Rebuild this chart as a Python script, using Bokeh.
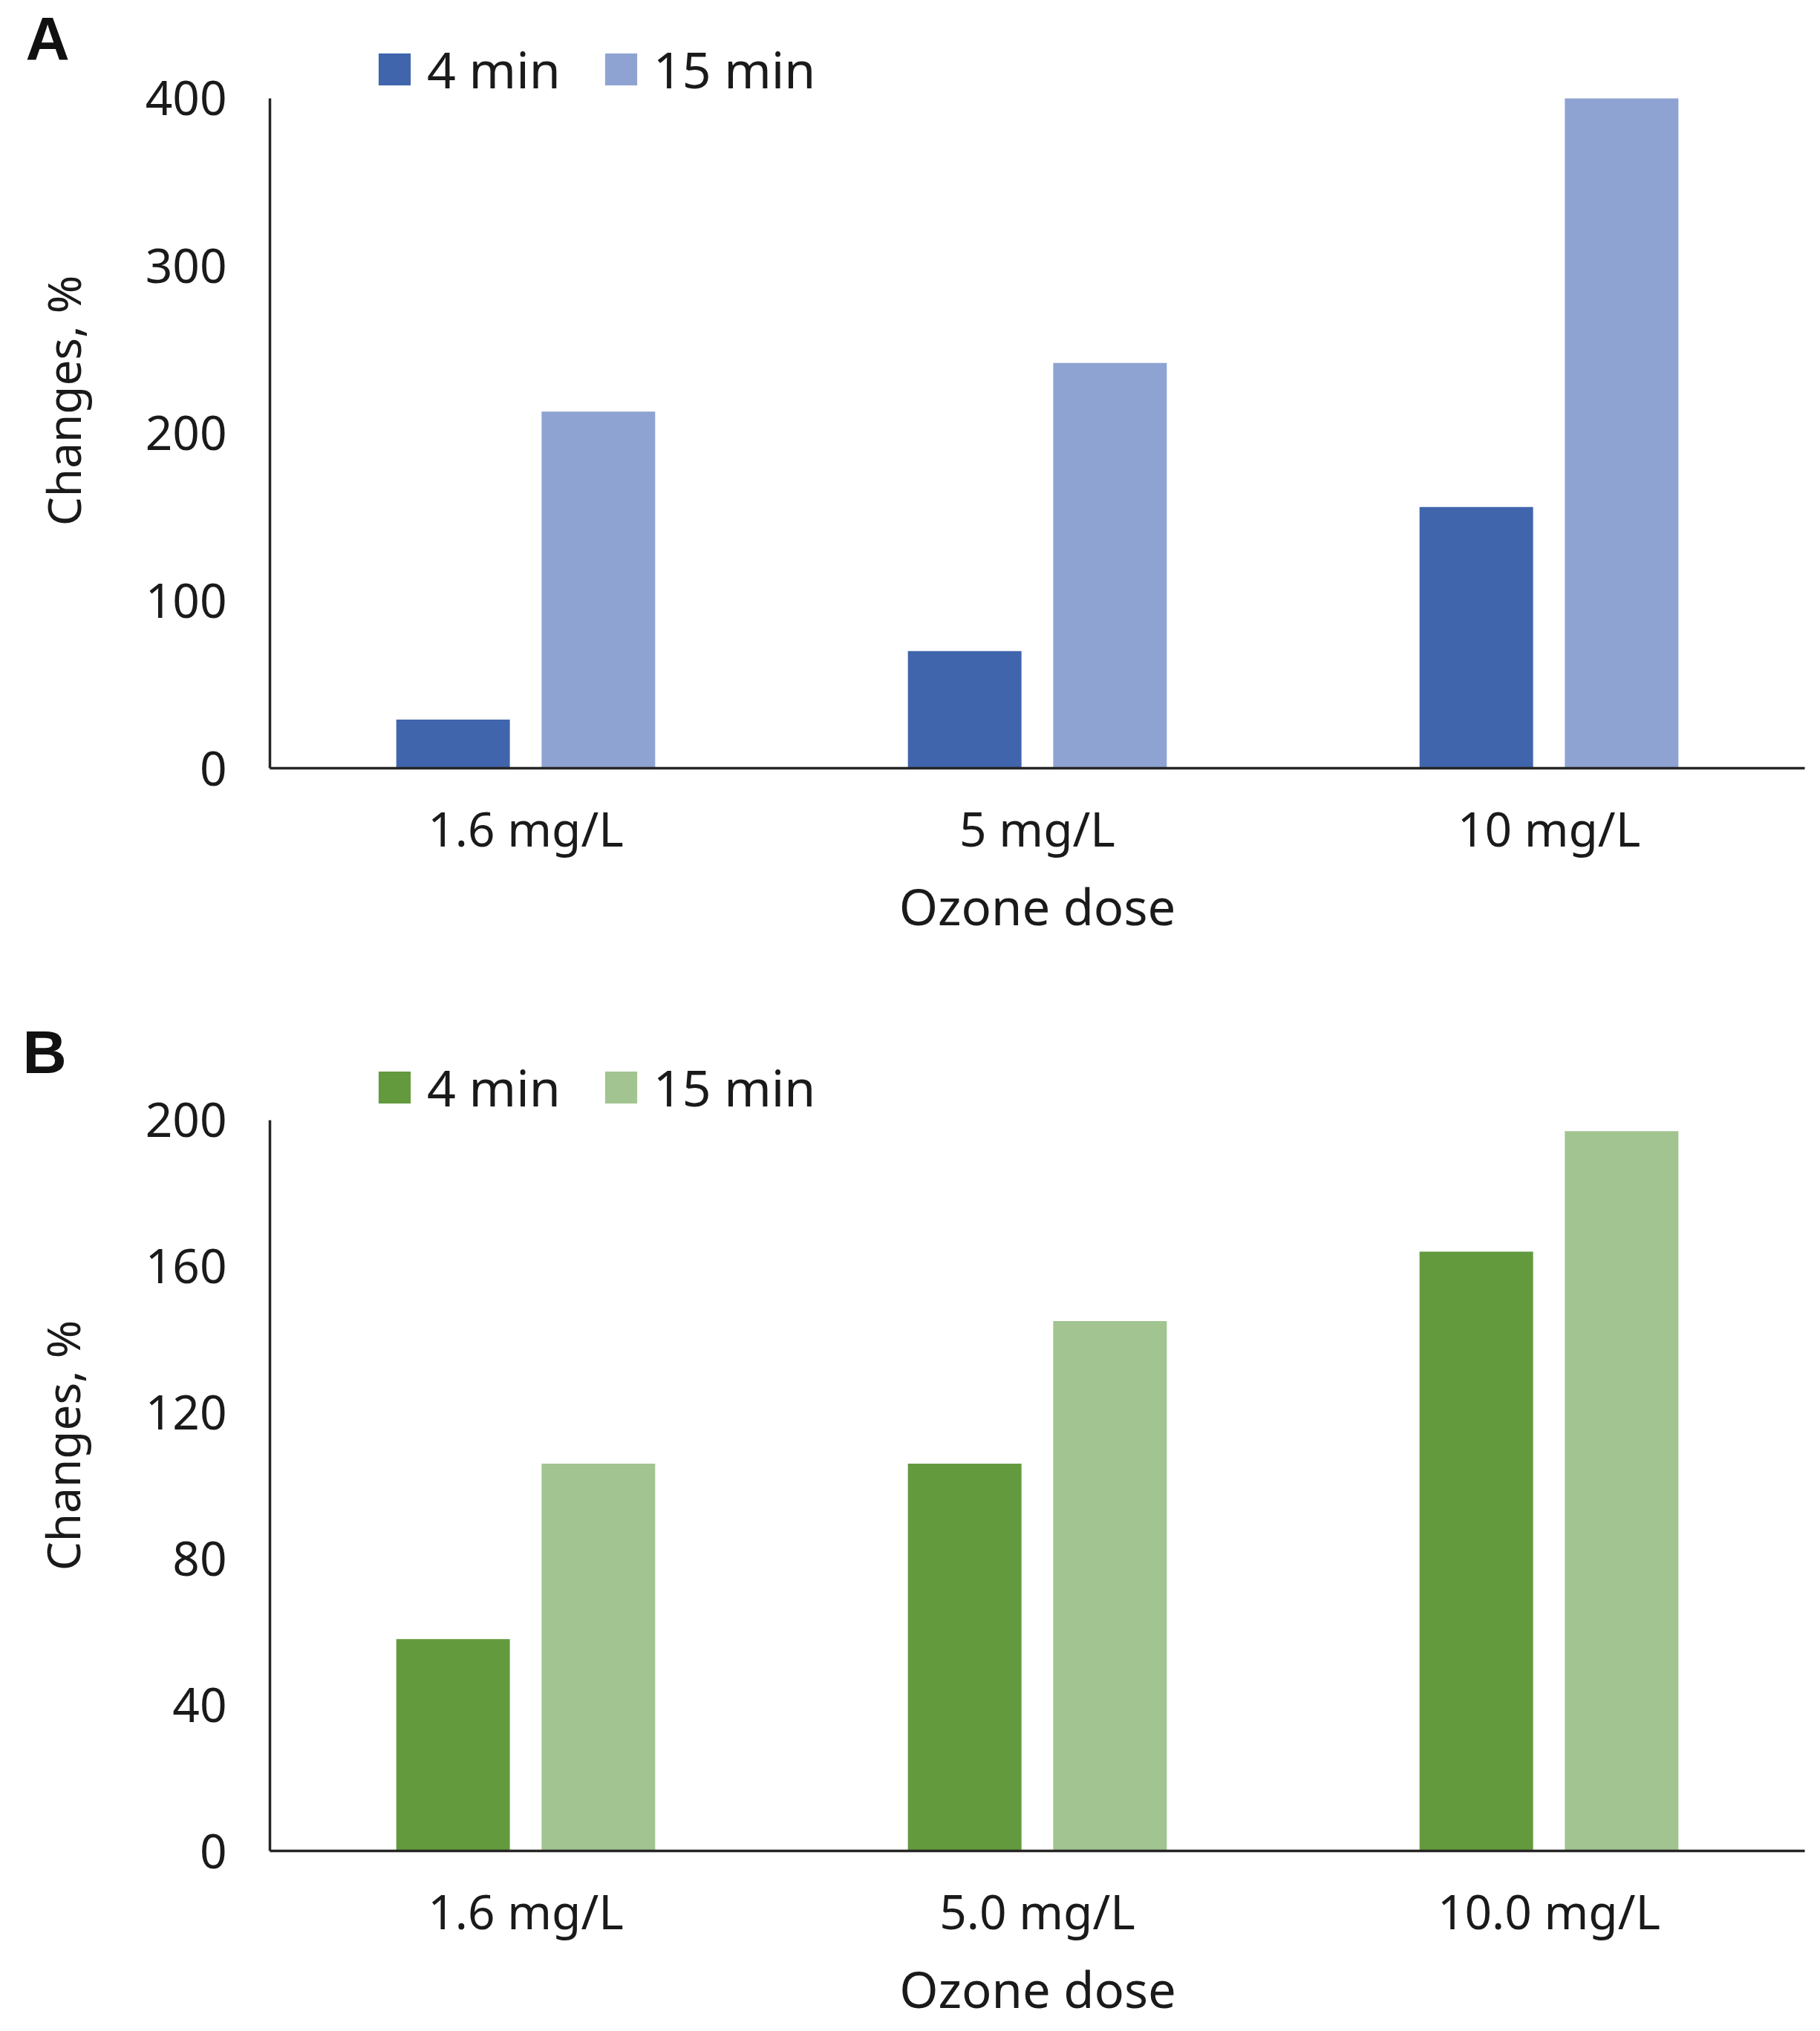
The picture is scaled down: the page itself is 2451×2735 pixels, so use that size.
from bokeh.plotting import figure
from bokeh.models import FactorRange, Range1d, FixedTicker, Legend, LegendItem, Label
from bokeh.transform import dodge
from bokeh.layouts import column
from bokeh.embed import file_html
from bokeh.resources import INLINE

# ---- data ----
doses_a = ["1.6 mg/L", "5 mg/L", "10 mg/L"]
a_4min = [29, 70, 156]
a_15min = [213, 242, 400]

doses_b = ["1.6 mg/L", "5.0 mg/L", "10.0 mg/L"]
b_4min = [58, 106, 164]
b_15min = [106, 145, 197]

ticks_a = [0, 100, 200, 300, 400]
ticks_b = [0, 40, 80, 120, 160, 200]
series_labels = ["4 min", "15 min"]
y_title = "Changes, %"
x_title = "Ozone dose"

FONT = "Noto Sans"
TXT = "#1a1a1a"
W = 2435


def make_panel(doses, v4, v15, c4, c15, ticks, y_end, height, top, bottom,
               legend_xy, tick_standoff, x_title_standoff, y_title_standoff):
    p = figure(width=W, height=height, x_range=FactorRange(*doses),
               y_range=Range1d(0, y_end), output_backend="svg",
               toolbar_location=None, min_border_left=363, min_border_right=5,
               min_border_top=top, min_border_bottom=bottom)
    src = dict(dose=doses, t4=v4, t15=v15)
    r4 = p.vbar(x=dodge("dose", -0.142, range=p.x_range), top="t4", width=0.222,
                source=src, fill_color=c4, line_color=None)
    r15 = p.vbar(x=dodge("dose", 0.142, range=p.x_range), top="t15", width=0.222,
                 source=src, fill_color=c15, line_color=None)
    p.outline_line_color = None
    p.xgrid.visible = False
    p.ygrid.visible = False
    p.background_fill_color = "white"
    p.border_fill_color = "white"

    for ax in (p.xaxis[0], p.yaxis[0]):
        ax.axis_line_color = "#262626"
        ax.axis_line_width = 3.5
        ax.major_tick_line_color = None
        ax.minor_tick_line_color = None
        ax.major_tick_out = 0
        ax.major_tick_in = 0
        ax.major_label_text_font = FONT
        ax.major_label_text_font_size = "64px"
        ax.major_label_text_color = TXT
        ax.axis_label_text_font = FONT
        ax.axis_label_text_font_style = "normal"
        ax.axis_label_text_color = TXT

    p.yaxis[0].ticker = FixedTicker(ticks=ticks)
    p.yaxis[0].bounds = (0, ticks[-1])
    p.yaxis[0].major_label_standoff = 58
    if y_title_standoff is not None:
        p.yaxis[0].axis_label = y_title
        p.yaxis[0].axis_label_text_font_size = "62px"
        p.yaxis[0].axis_label_standoff = y_title_standoff
    p.xaxis[0].major_label_standoff = tick_standoff
    if x_title_standoff is not None:
        p.xaxis[0].axis_label = x_title
        p.xaxis[0].axis_label_text_font_size = "67px"
        p.xaxis[0].axis_label_standoff = x_title_standoff

    legend = Legend(items=[LegendItem(label=series_labels[0], renderers=[r4]),
                           LegendItem(label=series_labels[1], renderers=[r15])],
                    orientation="horizontal", location=legend_xy,
                    glyph_width=54, glyph_height=54, label_standoff=17,
                    spacing=54, padding=0, margin=0,
                    border_line_color=None, background_fill_alpha=0,
                    label_text_font=FONT, label_text_font_size="68px",
                    label_text_color=TXT)
    p.add_layout(legend)
    return p


def letter_label(text, x, y, units):
    return Label(x=x, y=y, x_units=units, y_units=units, text=text,
                 text_font="Liberation Sans", text_font_style="bold",
                 text_font_size="82px", text_color="#111111",
                 text_baseline="alphabetic")


# panel A
pa = make_panel(doses_a, a_4min, a_15min, "#4065AD", "#8FA3D3", ticks_a, 458.5,
                1300, 0, 266, (141, 895), 37, 12, None)
pa.add_layout(Label(x=84, y=539, x_units="canvas", y_units="canvas",
                    text=y_title, angle=90, angle_units="deg",
                    text_align="center", text_baseline="middle",
                    text_font=FONT, text_font_size="62px", text_color=TXT), "left")
pa.add_layout(letter_label("A", 34, 51, "canvas"), "left")

# panel B
pb = make_panel(doses_b, b_4min, b_15min, "#639A3E", "#A2C490", ticks_b, 221.95,
                1435, 100, 243, (141, 982), 37, None, 67)
pb.add_layout(Label(x=1397, y=1377, x_units="canvas", y_units="canvas",
                    text=x_title, text_align="center", text_baseline="middle",
                    text_font=FONT, text_font_size="67px", text_color=TXT), "below")
pb.add_layout(letter_label("B", -333, -16, "screen"), "above")

layout = column(pa, pb, spacing=0)
open("out.html", "w").write(file_html(layout, INLINE))
